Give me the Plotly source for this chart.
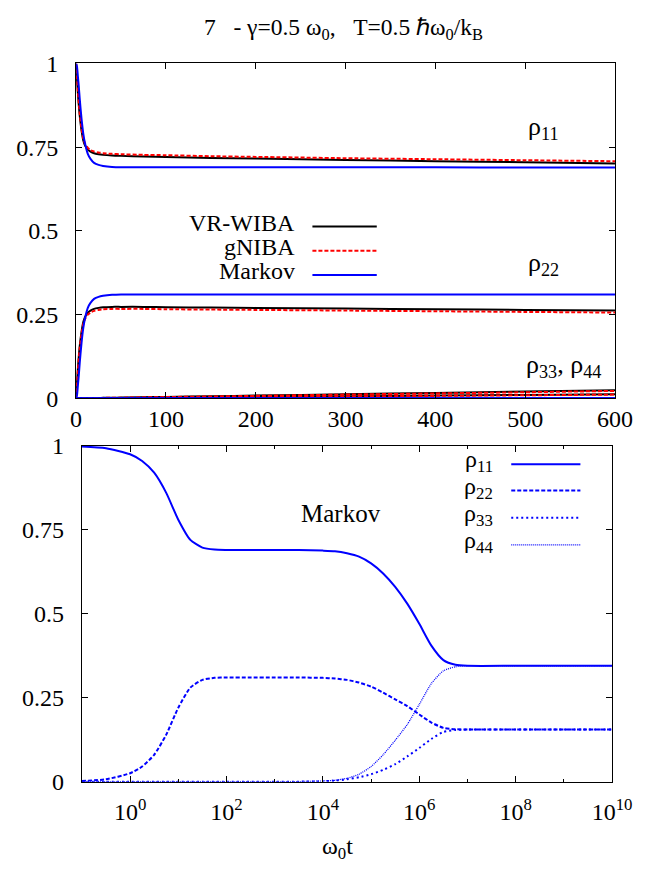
import plotly.graph_objects as go

# ---------------- top panel: linear time, three approximations ----------------
t_lin = [0, 1, 2, 3, 4, 6, 8, 10, 13, 16, 20, 25, 30, 40, 50, 75, 100, 150, 200, 300, 400, 500, 600]

vr_rho11 = [1.0, 0.95, 0.91, 0.875, 0.845, 0.80, 0.77, 0.755, 0.743, 0.737, 0.732, 0.729, 0.727,
            0.725, 0.724, 0.722, 0.721, 0.718, 0.716, 0.712, 0.708, 0.705, 0.701]
gn_rho11 = [1.0, 0.955, 0.915, 0.88, 0.85, 0.805, 0.776, 0.76, 0.748, 0.741, 0.737, 0.734, 0.732,
            0.730, 0.729, 0.727, 0.726, 0.723, 0.721, 0.717, 0.714, 0.711, 0.708]
mk_rho11 = [1.0, 0.99, 0.96, 0.93, 0.895, 0.835, 0.79, 0.76, 0.73, 0.715, 0.703, 0.697, 0.694,
            0.691, 0.690, 0.690, 0.690, 0.690, 0.690, 0.690, 0.690, 0.689, 0.689]

vr_rho22 = [0.0, 0.05, 0.09, 0.125, 0.155, 0.198, 0.228, 0.243, 0.256, 0.262, 0.267, 0.270, 0.272,
            0.273, 0.273, 0.273, 0.272, 0.271, 0.270, 0.268, 0.266, 0.264, 0.262]
gn_rho22 = [0.0, 0.045, 0.085, 0.12, 0.15, 0.193, 0.222, 0.237, 0.250, 0.256, 0.261, 0.264, 0.266,
            0.267, 0.267, 0.267, 0.266, 0.265, 0.264, 0.262, 0.260, 0.258, 0.256]
mk_rho22 = [0.0, 0.01, 0.04, 0.07, 0.105, 0.165, 0.21, 0.24, 0.27, 0.285, 0.297, 0.303, 0.306,
            0.309, 0.310, 0.310, 0.310, 0.310, 0.310, 0.310, 0.310, 0.310, 0.310]

vr_rho33 = [0.0, 0.0, 0.0, 0.0, 0.0, 0.0, 0.0, 0.0, 0.0005, 0.0007, 0.0009, 0.0011, 0.0013,
            0.0017, 0.002, 0.003, 0.004, 0.006, 0.008, 0.012, 0.016, 0.020, 0.024]
vr_rho44 = [0.0, 0.0, 0.0, 0.0, 0.0, 0.0, 0.0, 0.0, 0.0002, 0.0003, 0.0004, 0.0005, 0.0006,
            0.0008, 0.001, 0.0015, 0.002, 0.003, 0.004, 0.006, 0.008, 0.010, 0.012]
gn_rho33 = [0.0, 0.0, 0.0, 0.0, 0.0, 0.0, 0.0, 0.0, 0.0004, 0.0006, 0.0008, 0.001, 0.0012,
            0.0015, 0.0018, 0.0027, 0.0036, 0.0054, 0.0072, 0.011, 0.0145, 0.018, 0.022]
gn_rho44 = [0.0, 0.0, 0.0, 0.0, 0.0, 0.0, 0.0, 0.0, 0.0002, 0.0003, 0.0004, 0.0005, 0.0005,
            0.0007, 0.0009, 0.0014, 0.0018, 0.0027, 0.0036, 0.0054, 0.0072, 0.009, 0.011]
mk_rho33 = [0.0] * len(t_lin)
mk_rho44 = [0.0] * len(t_lin)

# ---------------- bottom panel: Markov populations on a log time axis ----------------
decade = [-1, -0.5, 0, 0.25, 0.5, 0.75, 1, 1.25, 1.5, 1.75, 2, 2.5, 3, 3.5, 4, 4.25, 4.5, 4.75,
          5, 5.25, 5.5, 5.75, 6, 6.25, 6.5, 6.75, 7, 8, 9, 10]
m_rho11 = [0.998, 0.993, 0.975, 0.955, 0.92, 0.86, 0.78, 0.72, 0.697, 0.691, 0.69, 0.69, 0.69, 0.69,
           0.688, 0.686, 0.68, 0.67, 0.65, 0.62, 0.58, 0.53, 0.47, 0.405, 0.362, 0.348, 0.345,
           0.345, 0.345, 0.345]
m_rho22 = [0.002, 0.007, 0.025, 0.045, 0.08, 0.14, 0.22, 0.28, 0.303, 0.309, 0.31, 0.31, 0.31, 0.31,
           0.309, 0.307, 0.303, 0.295, 0.283, 0.265, 0.245, 0.225, 0.20, 0.176, 0.16, 0.156,
           0.155, 0.155, 0.155, 0.155]
m_rho33 = [0.0, 0.0, 0.0, 0.0, 0.0, 0.0, 0.0, 0.0, 0.0, 0.0, 0.0, 0.0, 0.0, 0.0, 0.001, 0.003,
           0.007, 0.013, 0.022, 0.035, 0.052, 0.075, 0.10, 0.127, 0.148, 0.154, 0.155, 0.155,
           0.155, 0.155]
m_rho44 = [0.0, 0.0, 0.0, 0.0, 0.0, 0.0, 0.0, 0.0, 0.0, 0.0, 0.0, 0.0, 0.0, 0.0, 0.002, 0.004,
           0.01, 0.022, 0.045, 0.08, 0.123, 0.17, 0.23, 0.292, 0.33, 0.342, 0.345, 0.345,
           0.345, 0.345]
t_log = [10 ** d for d in decade]

y_ticks = [0, 0.25, 0.5, 0.75, 1]
y_ticktext = ["0", "0.25", "0.5", "0.75", "1"]
x_lin_ticks = [0, 100, 200, 300, 400, 500, 600]
x_log_major = [1e0, 1e2, 1e4, 1e6, 1e8, 1e10]
x_log_major_text = ["10<sup>0</sup>", "10<sup>2</sup>", "10<sup>4</sup>", "10<sup>6</sup>",
                    "10<sup>8</sup>", "10<sup>10</sup>"]
x_log_minor = [1e-1, 1e1, 1e3, 1e5, 1e7, 1e9]

BLUE = "#0000ff"
RED = "#ff0000"
BLACK = "#000000"
FONT = "Liberation Serif, Times New Roman, Times, serif"
W, H = 659, 881


def px(x):
    return x / W


def py(y):
    return 1 - y / H


fig = go.Figure()

# top panel curves
for series, color, dash in [
    ([vr_rho11, vr_rho22, vr_rho33, vr_rho44], BLACK, "solid"),
    ([gn_rho11, gn_rho22, gn_rho33, gn_rho44], RED, "4px,2px"),
    ([mk_rho11, mk_rho22, mk_rho33, mk_rho44], BLUE, "solid"),
]:
    for vals in series:
        fig.add_trace(go.Scatter(x=t_lin, y=vals, mode="lines", xaxis="x", yaxis="y",
                                 line=dict(color=color, width=2, dash=dash, shape="spline",
                                           smoothing=0.6),
                                 showlegend=False, hoverinfo="skip"))

# bottom panel curves
for vals, dash, width in [
    (m_rho11, "solid", 2),
    (m_rho22, "4px,2px", 2),
    (m_rho33, "2px,3px", 2),
    (m_rho44, "1px,1px", 1.3),
]:
    fig.add_trace(go.Scatter(x=t_log, y=vals, mode="lines", xaxis="x2", yaxis="y2",
                             line=dict(color=BLUE, width=width, dash=dash, shape="spline",
                                       smoothing=0.6),
                             showlegend=False, hoverinfo="skip"))

axis_common = dict(showline=True, linecolor=BLACK, linewidth=1, mirror="allticks",
                   ticks="inside", ticklen=6, tickcolor=BLACK, tickwidth=1,
                   showgrid=False, zeroline=False,
                   tickfont=dict(family=FONT, size=24, color=BLACK))

fig.update_layout(
    width=W, height=H,
    margin=dict(l=0, r=0, t=0, b=0),
    paper_bgcolor="white", plot_bgcolor="white",
    font=dict(family=FONT, color=BLACK),
    xaxis=dict(domain=[px(73), px(634)], range=[0, 600], anchor="y",
               tickmode="array", tickvals=x_lin_ticks, ticklabelstandoff=-1, **axis_common),
    yaxis=dict(domain=[py(397), py(52)], range=[0, 1], anchor="x",
               tickmode="array", tickvals=y_ticks, ticktext=y_ticktext,
               ticklabelstandoff=12, **axis_common),
    xaxis2=dict(domain=[px(79), px(631)], type="log", range=[-1, 10], anchor="y2",
                tickmode="array", tickvals=x_log_major, ticktext=x_log_major_text,
                ticklabelstandoff=9,
                minor=dict(tickmode="array", tickvals=x_log_minor, ticks="inside",
                           ticklen=3, tickcolor=BLACK, tickwidth=1, showgrid=False),
                **axis_common),
    yaxis2=dict(domain=[py(792), py(446)], range=[0, 1], anchor="x2",
                tickmode="array", tickvals=y_ticks, ticktext=y_ticktext,
                ticklabelstandoff=12, **axis_common),
)

NB = "\u00a0"
annotations = [
    dict(text="7" + NB * 3 + "-" + NB + "γ=0.5 ω<sub>0</sub>," + NB * 3 + "T=0.5 ℏω<sub>0</sub>/k<sub>B</sub>",
         x=px(351), y=py(17), font=dict(size=23.5)),
    dict(text="ω<sub>0</sub>t", x=px(345), y=py(860), font=dict(size=24)),
    dict(text="ρ<sub>11</sub>", x=px(541), y=py(118), xanchor="left", font=dict(size=26)),
    dict(text="ρ<sub>22</sub>", x=px(541), y=py(259), xanchor="left", font=dict(size=26)),
    dict(text="ρ<sub>33</sub>, ρ<sub>44</sub>", x=px(539), y=py(364), xanchor="left",
         font=dict(size=26)),
    dict(text="Markov", x=px(349), y=py(516), font=dict(size=25)),
]

# top legend: labels to the left of the line samples
top_legend = [("VR-WIBA", BLACK, "solid", 220), ("gNIBA", RED, "4px,2px", 245),
              ("Markov", BLUE, "solid", 270)]
shapes = []
for label, color, dash, yy in top_legend:
    annotations.append(dict(text=label, x=px(303), y=py(yy - 4), xanchor="right",
                            font=dict(size=24)))
    shapes.append(dict(type="line", xref="paper", yref="paper", x0=px(319), x1=px(386),
                       y0=py(yy), y1=py(yy), line=dict(color=color, width=2, dash=dash)))

bottom_legend = [("ρ<sub>11</sub>", "solid", 2, 465), ("ρ<sub>22</sub>", "4px,2px", 2, 492),
                 ("ρ<sub>33</sub>", "2px,3px", 2, 520), ("ρ<sub>44</sub>", "1px,1px", 1.3, 548)]
for label, dash, width, yy in bottom_legend:
    annotations.append(dict(text=label, x=px(509), y=py(yy - 3), xanchor="right",
                            font=dict(size=24)))
    shapes.append(dict(type="line", xref="paper", yref="paper", x0=px(526), x1=px(598),
                       y0=py(yy), y1=py(yy), line=dict(color=BLUE, width=width, dash=dash)))

for a in annotations:
    a.setdefault("xref", "paper")
    a.setdefault("yref", "paper")
    a.setdefault("showarrow", False)
    a.setdefault("xanchor", "center")
    a.setdefault("yanchor", "middle")
    a["font"] = dict(family=FONT, color=BLACK, size=a["font"]["size"])

fig.update_layout(annotations=annotations, shapes=shapes)

fig.write_html("out.html")
